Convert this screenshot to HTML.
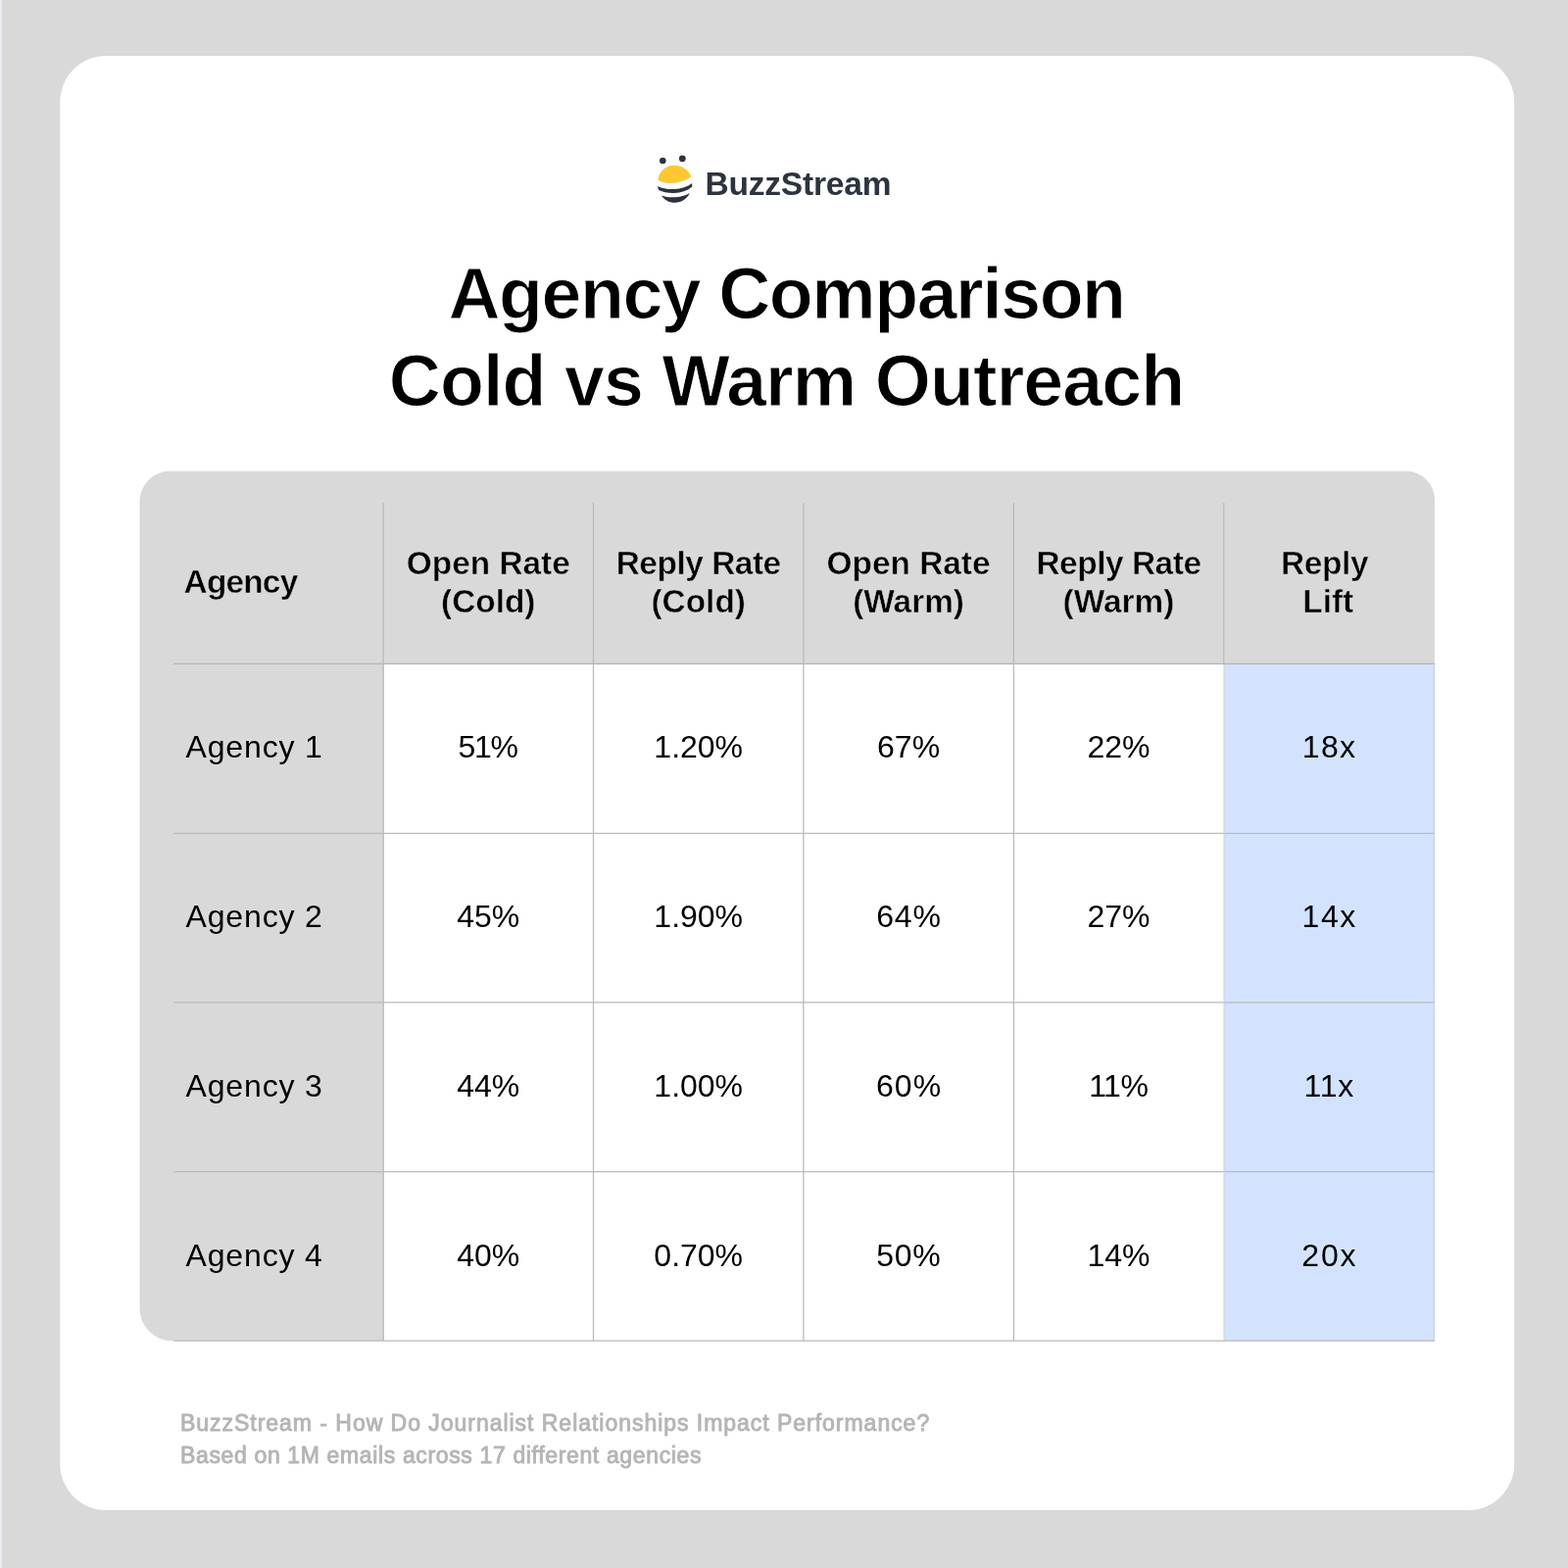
<!DOCTYPE html>
<html lang="en">
<head>
<meta charset="utf-8">
<title>Agency Comparison: Cold vs Warm Outreach</title>
<style>
*{box-sizing:border-box;margin:0;padding:0}
html,body{width:1600px;height:1600px;overflow:hidden;background:#d9d9d9}
body{position:relative;font-family:"Liberation Sans",sans-serif;color:#000}
.strip{position:absolute;left:0;top:0;width:2px;height:1600px;background:#ebecf1}
.abs{position:absolute;white-space:nowrap}
.logo-text{left:719.5px;top:167.5px;font-size:33.5px;line-height:40px;font-weight:bold;color:#2d343f;letter-spacing:-0.2px}
.title{left:0;width:1605px;text-align:center;font-weight:bold;-webkit-text-stroke:1.1px #fff;font-size:73.5px;line-height:89px;color:#000}
.t1{top:255px;letter-spacing:-1.45px}
.t2{top:344px;letter-spacing:-0.9px}
.body{position:absolute;left:392px;top:678px;width:857px;height:690px;background:#fff}
.lift{position:absolute;left:1249px;top:678px;width:215px;height:690px;background:#d3e3fd}
.th{font-weight:bold;-webkit-text-stroke:0.5px #d9d9d9;font-size:33.4px;line-height:38.8px;text-align:center;width:214.4px;color:#000}
.td{font-size:32px;line-height:40px;text-align:center;width:214.4px;color:#000}
.foot{left:184px;font-size:23px;line-height:30px;font-weight:normal;color:#b5b5b5;-webkit-text-stroke:0.9px #b5b5b5}
</style>
</head>
<body>
<div class="strip"></div>
<svg class="abs" style="left:0;top:0" width="1600" height="1600" viewBox="0 0 1600 1600"><path d="M108.3 56.9 H1498.2 A47 47 0 0 1 1545.2 103.9 V1494 A47 47 0 0 1 1498.2 1541 H108.3 A47 47 0 0 1 61.3 1494 V103.9 A47 47 0 0 1 108.3 56.9 Z" fill="#fff"/><path d="M173.5 480.7 H1434.9 A29 29 0 0 1 1463.9 509.7 V1368.2 H175.5 A33 33 0 0 1 142.5 1335.2 V511.7 A31 31 0 0 1 173.5 480.7 Z" fill="#d9d9d9"/></svg>

<svg class="abs" style="left:660px;top:150px" width="60" height="64" viewBox="660 150 60 64">
  <circle cx="676.3" cy="164" r="3.3" fill="#2d343f"/>
  <circle cx="696.3" cy="161.8" r="3.4" fill="#2d343f"/>
  <path d="M671.3 183.5 C672.5 175 679 168.8 688 168.8 C696 168.8 702.5 173.5 705.3 180.3 C700 184.5 692 186.8 684 187 C679 187 674.5 185.8 671.3 183.5 Z" fill="#ffc832"/>
  <path d="M671 190 C676 192.5 682 193.3 688 193 C695 192.6 701.5 190.8 706.2 187 C706.4 188.2 706.3 189.6 706 190.8 C701 194.8 695 196.8 688 197 C682 197.2 676.5 196.2 672.3 194 C671.6 192.8 671.2 191.4 671 190 Z" fill="#2d343f"/>
  <path d="M674.8 199.5 C679 201 683.5 201.5 688 201.3 C694 201 699.5 199.8 704 197 C701 202.8 695.5 206.6 689 206.8 C683 207 678 204.2 674.8 199.5 Z" fill="#2d343f"/>
</svg>
<div class="abs logo-text">BuzzStream</div>

<div class="abs title t1">Agency Comparison</div>
<div class="abs title t2">Cold vs Warm Outreach</div>

<div class="body"></div>
<div class="lift"></div>
<!--GRID-->
<svg class="abs" style="left:0;top:0" width="1600" height="1600" viewBox="0 0 1600 1600"><line x1="177.4" y1="677.4" x2="1464" y2="677.4" stroke="#b4b4b4" stroke-width="1.3"/><line x1="177.4" y1="850.4" x2="1464" y2="850.4" stroke="#bababa" stroke-width="1.3"/><line x1="177.4" y1="1022.9" x2="1464" y2="1022.9" stroke="#bababa" stroke-width="1.3"/><line x1="177.4" y1="1195.6" x2="1464" y2="1195.6" stroke="#bababa" stroke-width="1.3"/><line x1="177.4" y1="1368.1" x2="1464" y2="1368.1" stroke="#bababa" stroke-width="1.3"/><line x1="391.1" y1="513" x2="391.1" y2="1368" stroke="#bababa" stroke-width="1.3"/><line x1="605.5" y1="513" x2="605.5" y2="1368" stroke="#bababa" stroke-width="1.3"/><line x1="819.9" y1="513" x2="819.9" y2="1368" stroke="#bababa" stroke-width="1.3"/><line x1="1034.4" y1="513" x2="1034.4" y2="1368" stroke="#bababa" stroke-width="1.3"/><line x1="1248.8" y1="513" x2="1248.8" y2="677.4" stroke="#bababa" stroke-width="1.3"/><line x1="1249.0" y1="678" x2="1249.0" y2="1368" stroke="#d2d5dc" stroke-width="1.1"/><line x1="1463.4" y1="678" x2="1463.4" y2="1368.6" stroke="#cfcfd2" stroke-width="1.1"/></svg>
<!--/GRID-->
<!--TEXT-->
<div class="abs th" style="left:187.6px;top:575px;width:auto;text-align:left;letter-spacing:-0.8px">Agency</div>
<div class="abs th" style="left:391.1px;top:556px">Open Rate<br>(Cold)</div>
<div class="abs th" style="left:605.5px;top:556px"><span style="letter-spacing:-0.45px;">Reply Rate</span><br>(Cold)</div>
<div class="abs th" style="left:819.9px;top:556px">Open Rate<br>(Warm)</div>
<div class="abs th" style="left:1034.3px;top:556px"><span style="letter-spacing:-0.45px;">Reply Rate</span><br>(Warm)</div>
<div class="abs th" style="left:1248.7px;top:556px"><span style="letter-spacing:-0.35px;position:relative;left:-4.3px">Reply</span><br><span style="position:relative;left:-0.6px">Lift</span></div>
<div class="abs td" style="left:189.5px;top:742.4px;width:auto;text-align:left;letter-spacing:0.85px">Agency 1</div>
<div class="abs td" style="left:391.1px;top:742.4px;letter-spacing:-1.3px;margin-left:-0.65px">51%</div>
<div class="abs td" style="left:605.5px;top:742.4px">1.20%</div>
<div class="abs td" style="left:819.9px;top:742.4px">67%</div>
<div class="abs td" style="left:1034.3px;top:742.4px">22%</div>
<div class="abs td" style="left:1248.7px;top:742.4px;letter-spacing:1.3px;padding-left:1.3px">18x</div>
<div class="abs td" style="left:189.5px;top:915.2px;width:auto;text-align:left;letter-spacing:0.85px">Agency 2</div>
<div class="abs td" style="left:391.1px;top:915.2px">45%</div>
<div class="abs td" style="left:605.5px;top:915.2px">1.90%</div>
<div class="abs td" style="left:819.9px;top:915.2px;letter-spacing:0.8px;padding-left:0.8px">64%</div>
<div class="abs td" style="left:1034.3px;top:915.2px">27%</div>
<div class="abs td" style="left:1248.7px;top:915.2px;letter-spacing:1.5px;padding-left:1.5px">14x</div>
<div class="abs td" style="left:189.5px;top:1088.1px;width:auto;text-align:left;letter-spacing:0.85px">Agency 3</div>
<div class="abs td" style="left:391.1px;top:1088.1px">44%</div>
<div class="abs td" style="left:605.5px;top:1088.1px">1.00%</div>
<div class="abs td" style="left:819.9px;top:1088.1px;letter-spacing:1.0px;padding-left:1.0px">60%</div>
<div class="abs td" style="left:1034.3px;top:1088.1px;letter-spacing:-0.5px;margin-left:-0.25px">11%</div>
<div class="abs td" style="left:1248.7px;top:1088.1px;letter-spacing:0.8px;padding-left:0.8px">11x</div>
<div class="abs td" style="left:189.5px;top:1260.9px;width:auto;text-align:left;letter-spacing:0.85px">Agency 4</div>
<div class="abs td" style="left:391.1px;top:1260.9px">40%</div>
<div class="abs td" style="left:605.5px;top:1260.9px">0.70%</div>
<div class="abs td" style="left:819.9px;top:1260.9px;letter-spacing:0.7px;padding-left:0.7px">50%</div>
<div class="abs td" style="left:1034.3px;top:1260.9px">14%</div>
<div class="abs td" style="left:1248.7px;top:1260.9px;letter-spacing:1.8px;padding-left:1.8px">20x</div>
<!--/TEXT-->

<div class="abs foot" style="top:1436.5px;letter-spacing:0.97px">BuzzStream - How Do Journalist Relationships Impact Performance?</div>
<div class="abs foot" style="top:1470.2px;letter-spacing:0.64px">Based on 1M emails across 17 different agencies</div>
</body>
</html>
